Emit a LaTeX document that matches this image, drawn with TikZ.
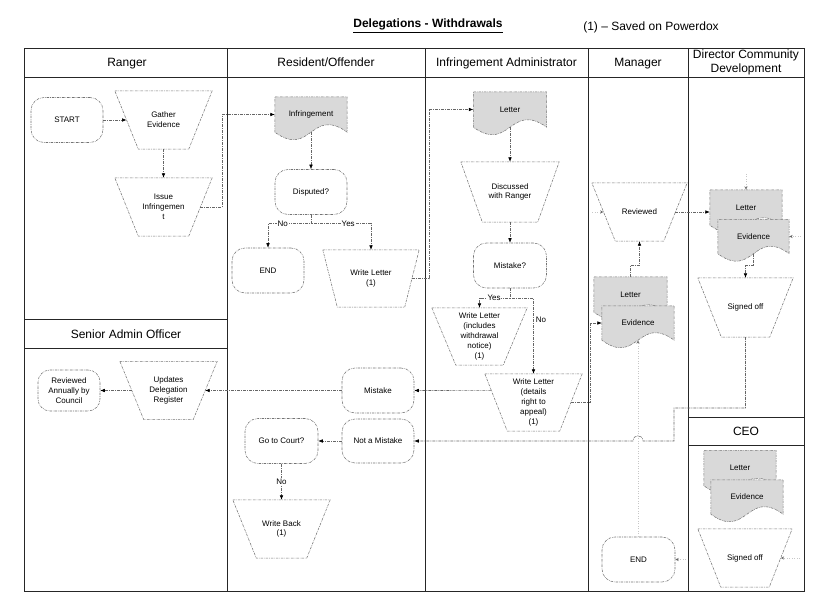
\documentclass[tikz,border=0pt]{standalone}
\usepackage{fontspec}
\setmainfont{Liberation Sans}
\usetikzlibrary{arrows.meta,calc}
\pgfdeclarelayer{background}
\pgfsetlayers{background,main}
\newcommand\docshape[1]{%
  \filldraw[docstyle] (#1.south west) -- (#1.north west) -- (#1.north east) -- (#1.south east)
   .. controls ($(#1.south)+(0,-26)$) and ($(#1.south)+(0,26)$) .. (#1.south west) -- cycle;}
\newcommand\trapshape[2]{%
  \draw[shapeline] (#1.north west) -- (#1.north east) -- ([xshift=-#2pt]#1.south east) -- ([xshift=#2pt]#1.south west) -- cycle;
  \coordinate (#1-l) at ($(#1.west)+(#2/2,0)$);
  \coordinate (#1-r) at ($(#1.east)-(#2/2,0)$);}
\tikzset{
 frame/.style={draw=black!85, line width=0.8pt},
 shapeline/.style={draw=black!55, line width=0.55pt, dash pattern=on 2.5pt off 1pt on 0.6pt off 1pt},
 term/.style={shapeline, fill=white, rectangle, rounded corners=13pt, minimum width=72pt, minimum height=45pt, inner sep=1pt, align=center},
 trapnode/.style={rectangle, minimum width=97pt, minimum height=58pt, inner sep=0pt, align=center},
 docnode/.style={rectangle, minimum width=72pt, minimum height=35pt, inner sep=0pt, align=center},
 docstyle/.style={shapeline, fill=black!15},
 conn/.style={draw=black!60, line width=0.55pt, dash pattern=on 3pt off 1pt on 1pt off 1pt},
 arr/.style={conn, -{Latex[length=4.5pt,width=3.6pt,color=black]}},
 faint/.style={draw=black!22, line width=0.5pt, dash pattern=on 1pt off 1.5pt, -{Stealth[open,length=3.5pt,width=3.2pt,color=black!60]}},
 lbl/.style={fill=white, inner sep=0.8pt},
 head/.style={font=\fontsize{12}{14}\selectfont, align=center, anchor=base}
}
\begin{document}
\begin{tikzpicture}[x=1pt, y=-1pt, font=\fontsize{8}{9.8}\selectfont]
\useasboundingbox (0,0) rectangle (828,607);
% frame
\draw[frame] (24,48) rectangle (804,591);
\draw[frame] (24,77) -- (804,77);
\foreach \x in {227,425,588,688} \draw[frame] (\x,48) -- (\x,591);
\draw[frame] (24,319) -- (227,319) (24,348) -- (227,348);
\draw[frame] (688,417) -- (804,417) (688,445) -- (804,445);
% titles
\node[font=\bfseries\fontsize{12}{14}\selectfont, anchor=base] (title) at (428,28) {\underline{Delegations - Withdrawals}};
\node[head] (note) at (651,31) {(1) – Saved on Powerdox};
\node[head] (hRanger) at (127,66.5) {Ranger};
\node[head] (hRes) at (326,66.5) {Resident/Offender};
\node[head] (hAdm) at (506.5,66.5) {Infringement Administrator};
\node[head] (hMgr) at (638,66.5) {Manager};
\node[font=\fontsize{12}{14}\selectfont, align=center] (hDir) at (746,62.5) {Director Community\\Development};
\node[head] (hSen) at (126,338.5) {Senior Admin Officer};
\node[head] (hCeo) at (746,435.5) {CEO};
% nodes
\node[term] (start) at (67,120) {START};
\node[trapnode] (gather) at (163.5,120) {Gather\\Evidence};
\node[trapnode] (issue) at (163.5,207) {Issue\\Infringemen\\t};
\node[docnode] (infr) at (311,114.5) {Infringement};
\node[term] (disp) at (311,192) {Disputed?};
\node[term] (end1) at (268,270.5) {END};
\node[trapnode, minimum width=96pt, minimum height=57pt] (wl1) at (371,278.5) {Write Letter\\(1)};
\node[docnode, minimum width=73pt] (letter) at (510,109.5) {Letter};
\node[trapnode, minimum height=60pt, minimum width=98pt] (disc) at (510,192) {Discussed\\with Ranger};
\node[term, minimum width=73pt] (mist1) at (510,265.5) {Mistake?};
\node[trapnode, minimum width=95pt, minimum height=57pt] (wlinc) at (479.5,336.5) {Write Letter\\(includes\\withdrawal\\notice)\\(1)};
\node[trapnode, minimum height=57pt] (wldet) at (533.5,402.5) {Write Letter\\(details\\right to\\appeal)\\(1)};
\node[term] (mistake) at (378,390.5) {Mistake};
\node[term, minimum height=44pt] (notm) at (378,441) {Not a Mistake};
\node[term, minimum width=73pt] (court) at (281.5,441) {Go to Court?};
\node[trapnode] (wback) at (281.5,529) {Write Back\\(1)};
\node[term, minimum width=62pt, minimum height=41pt, rounded corners=12pt] (revann) at (69,390.5) {Reviewed\\Annually by\\Council};
\node[trapnode] (upd) at (168.5,390.5) {Updates\\Delegation\\Register};
\node[trapnode, minimum width=95pt] (mgrrev) at (639.5,212) {Reviewed};
\node[docnode, minimum width=73pt] (mgrletter) at (630.5,294.5) {Letter};
\node[docnode, minimum height=34pt] (mgrevid) at (638,323) {Evidence};
\node[docnode] (dirletter) at (746,207.5) {Letter};
\node[docnode, minimum width=71pt, minimum height=34pt] (direvid) at (753.5,236.5) {Evidence};
\node[trapnode, minimum width=95pt, minimum height=59pt] (dirsign) at (745.5,307.5) {Signed off};
\node[docnode] (ceoletter) at (740,468) {Letter};
\node[docnode, minimum height=34pt] (ceoevid) at (747,497) {Evidence};
\node[trapnode, minimum width=94pt] (ceosign) at (745,558) {Signed off};
\node[term, minimum width=73pt] (end2) at (638.5,559.5) {END};
% trapezoid outlines
\trapshape{gather}{23.5}
\trapshape{issue}{23.5}
\trapshape{wl1}{14.5}
\trapshape{disc}{21.5}
\trapshape{wlinc}{24}
\trapshape{wldet}{22.5}
\trapshape{wback}{23.5}
\trapshape{upd}{24}
\trapshape{mgrrev}{23.5}
\trapshape{dirsign}{23.5}
\trapshape{ceosign}{23}
\begin{pgfonlayer}{background}
\docshape{infr}
\docshape{letter}
\docshape{mgrletter}
\docshape{mgrevid}
\docshape{dirletter}
\docshape{direvid}
\docshape{ceoletter}
\docshape{ceoevid}
\end{pgfonlayer}
% connectors
\draw[arr] (start) -- (gather-l);
\draw[arr] (gather.south) -- (issue.north);
\draw[arr] (issue-r) -- ++(22,0) |- (infr.west);
\draw[arr] (infr.south) -- (disp.north);
\draw[arr] (disp.south) -- ++(0,9) -| node[lbl,pos=0.33]{No} (end1.north);
\draw[arr] (disp.south) -- ++(0,9) -| node[lbl,pos=0.31]{Yes} (wl1.north);
\draw[arr] (wl1-r) -- ++(17,0) |- (letter.west);
\draw[arr] (letter.south) -- (disc.north);
\draw[arr] (disc.south) -- (mist1.north);
\draw[arr] (mist1.south) -- ++(0,10) -| node[lbl,pos=0.26]{Yes} (wlinc.north);
\draw[arr] (mist1.south) -- ++(0,10) -| node[pos=0.64, right, inner sep=2pt]{No} (wldet.north);
\draw[arr] ($(wldet.north west)!0.29!(wldet.south west)+(6.5,0)$) -- (mistake.east);
\draw[arr] (mistake) -- (upd-r);
\draw[arr] (upd-l) -- (revann);
\draw[arr] (wldet-r) -- ++(19,0) |- (mgrevid.west);
\draw[arr] (mgrletter.north) -- ++(0,-12) -| (mgrrev.south);
\draw[arr] (mgrrev-r) -- (mgrrev-r -| dirletter.west);
\draw[arr] (direvid.south) -- ++(0,12) -| (dirsign.north);
\coordinate (t1) at (674,408);
\coordinate (hop) at (mgrevid.south |- notm.east);
\draw[arr] (dirsign.south) |- (t1) -- (t1 |- notm.east) -- ($(hop)+(5,0)$) .. controls ($(hop)+(5,-7)$) and ($(hop)+(-5,-7)$) .. ($(hop)+(-5,0)$) -- (notm.east);
\draw[arr] (notm) -- (court);
\draw[arr] (court) -- node[lbl]{No} (wback.north);
% faint connectors
\draw[faint] (mgrevid.south |- end2.north) -- (mgrevid.south);
\coordinate (f1) at (592,212);
\draw[faint] (f1) -- (mgrrev-l);
\coordinate (f2) at (746,174);
\draw[faint] (f2) -- (dirletter.north);
\coordinate (f3) at (801,236.5);
\draw[faint] (f3) -- (direvid.east);
\coordinate (f4) at (686,559.5);
\draw[faint] (f4) -- (end2.east);
\coordinate (f5) at (800,558);
\draw[faint] (f5) -- (ceosign-r);
\end{tikzpicture}
\end{document}
